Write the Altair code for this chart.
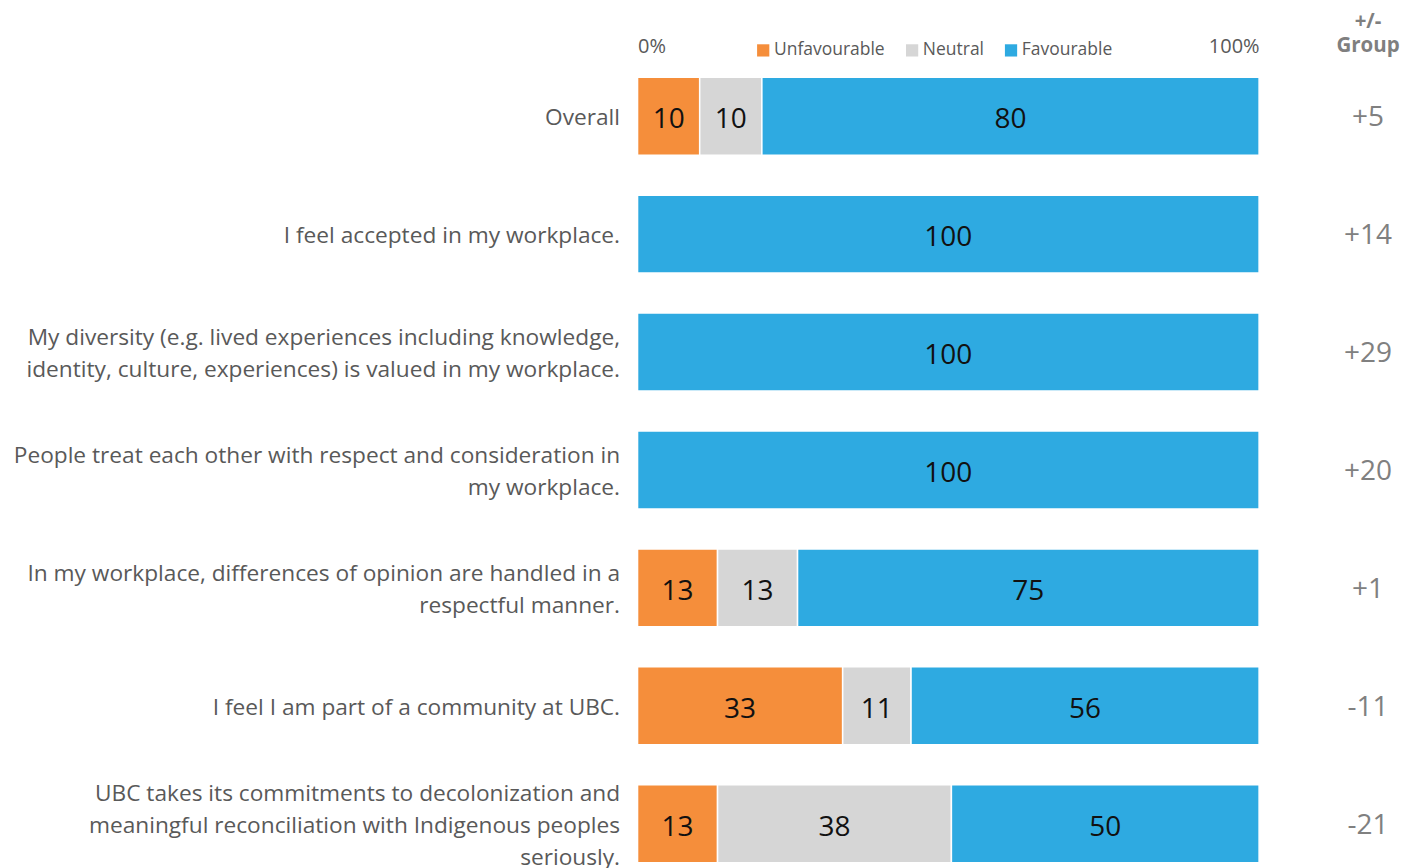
import altair as alt
import pandas as pd

questions = [
    "Overall",
    "I feel accepted in my workplace.",
    "My diversity (e.g. lived experiences including knowledge,|identity, culture, experiences) is valued in my workplace.",
    "People treat each other with respect and consideration in|my workplace.",
    "In my workplace, differences of opinion are handled in a|respectful manner.",
    "I feel I am part of a community at UBC.",
    "UBC takes its commitments to decolonization and|meaningful reconciliation with Indigenous peoples|seriously.",
]
unfavourable = [10, 0, 0, 0, 13, 33, 13]
neutral = [10, 0, 0, 0, 13, 11, 38]
favourable = [80, 100, 100, 100, 75, 56, 50]
group_diff = ["+5", "+14", "+29", "+20", "+1", "-11", "-21"]

categories = ["Unfavourable", "Neutral", "Favourable"]
colors = ["#F58E3B", "#D6D6D6", "#2EAAE1"]

rows = []
for i, q in enumerate(questions):
    for k, (cat, vals) in enumerate(zip(categories, [unfavourable, neutral, favourable])):
        rows.append({"q": q, "cat": cat, "order": k, "value": vals[i]})
df = pd.DataFrame(rows)
gdf = pd.DataFrame({"q": questions, "g": group_diff})

FONT = "Open Sans"
LABEL_GRAY = "#595959"

yscale = alt.Scale(type="band", domain=questions, paddingInner=0.339, paddingOuter=0)

nlines = "length(split(datum.value, '|'))"
label_offset = {
    "condition": [
        {"test": nlines + " == 3", "value": -30},
        {"test": nlines + " == 2", "value": -14},
    ],
    "value": 2,
}

base = alt.Chart(df).transform_stack(
    stack="value", groupby=["q"], as_=["x0", "x1"], offset="normalize",
    sort=[alt.SortField("order", "ascending")],
).transform_calculate(mid="(datum.x0 + datum.x1) / 2")

bars = base.mark_bar(stroke="white", strokeWidth=1.5).encode(
    y=alt.Y("q:N", scale=yscale, sort=questions,
            axis=alt.Axis(title=None, ticks=False, domain=False, labelPadding=18,
                          labelFont=FONT, labelFontSize=22.7, labelColor=LABEL_GRAY,
                          labelLimit=1000, labelLineHeight=32,
                          labelExpr="split(datum.label, '|')",
                          labelOffset=label_offset,
                          minExtent=630, maxExtent=630)),
    x=alt.X("x0:Q", scale=alt.Scale(domain=[0, 1], nice=False),
            axis=alt.Axis(orient="top", values=[0, 1], format=".0%", title=None,
                          ticks=False, domain=False, grid=False, labelFlush=True,
                          labelFont=FONT, labelFontSize=20, labelColor=LABEL_GRAY,
                          labelPadding=21)),
    x2="x1:Q",
    color=alt.Color("cat:N", scale=alt.Scale(domain=categories, range=colors),
                    legend=alt.Legend(title=None, orient="none", direction="horizontal",
                                      legendX=117, legendY=-36, padding=0,
                                      symbolType="square", symbolSize=150,
                                      symbolStrokeWidth=0, labelOffset=2,
                                      columnPadding=18, labelFont=FONT,
                                      labelFontSize=17.5, labelColor=LABEL_GRAY)),
)

texts = base.transform_filter("datum.value > 0").mark_text(
    font=FONT, fontSize=28, color="#111111", baseline="middle", align="center", dy=4
).encode(
    y=alt.Y("q:N", scale=yscale, sort=questions),
    x=alt.X("mid:Q"),
    text=alt.Text("value:Q"),
)

left = alt.layer(bars, texts).properties(width=622, height=786)

right = alt.Chart(gdf).mark_text(
    font=FONT, fontSize=28, color="#808080", baseline="middle", align="center", dy=2
).encode(
    y=alt.Y("q:N", scale=yscale, sort=questions, axis=None),
    text="g:N",
).properties(
    width=60, height=786,
    title=alt.TitleParams(["+/-", "Group"], font=FONT, fontSize=20.5, fontWeight="bold",
                          color="#7f7f7f", anchor="middle", offset=21, lineHeight=24),
)

chart = alt.hconcat(left, right, spacing=79, bounds="flush").properties(
    padding={"left": 0, "top": 3, "right": 0, "bottom": 0}
).configure_view(stroke=None)

chart.save("out.html", embed_options={"renderer": "svg", "actions": False})
